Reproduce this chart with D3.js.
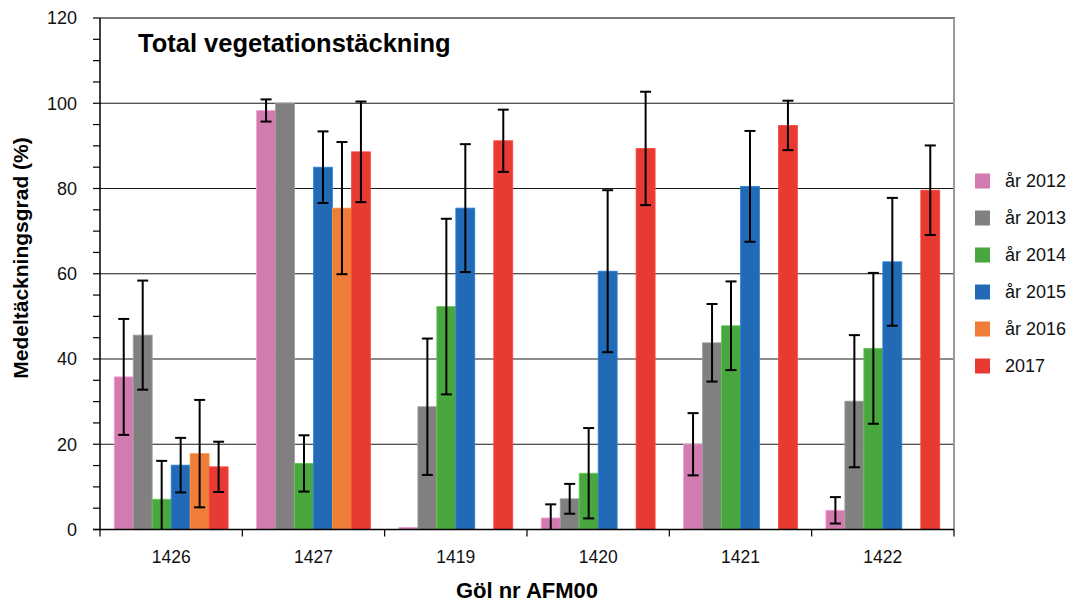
<!DOCTYPE html>
<html>
<head>
<meta charset="utf-8">
<script src="https://cdn.jsdelivr.net/npm/d3@7"></script>
<style>
  body { margin: 0; background: #fff; }
  svg { display: block; font-family: "Liberation Sans", Arial, sans-serif; }
</style>
</head>
<body>
<svg id="chart" width="1071" height="602"></svg>
<script>
// Ponds (Göl nr AFM00…) and survey years
const ponds = ["1426", "1427", "1419", "1420", "1421", "1422"];
const seriesNames = ["år 2012", "år 2013", "år 2014", "år 2015", "år 2016", "2017"];
const seriesColors = ["#D27BAF", "#808080", "#4AA63E", "#226AB5", "#EF7D37", "#E63A33"];

// Mean vegetation cover (%) per year, one entry per pond (null = not surveyed)
const cover2012 = [35.8, 98.3, 0.5, 2.7, 20.0, 4.5];
const cover2013 = [45.6, 100.0, 28.8, 7.2, 43.8, 30.1];
const cover2014 = [7.1, 15.5, 52.3, 13.2, 47.8, 42.5];
const cover2015 = [15.1, 85.0, 75.4, 60.6, 80.5, 62.8];
const cover2016 = [17.8, 75.4, null, null, null, null];
const cover2017 = [14.7, 88.6, 91.2, 89.4, 94.8, 79.6];

// Error bar half-widths (± %)
const err2012 = [13.6, 2.6, 0, 3.2, 7.3, 3.1];
const err2013 = [12.8, 0, 16.0, 3.5, 9.1, 15.5];
const err2014 = [9.0, 6.6, 20.6, 10.6, 10.4, 17.7];
const err2015 = [6.4, 8.4, 15.0, 19.0, 13.0, 15.0];
const err2016 = [12.6, 15.5, null, null, null, null];
const err2017 = [5.9, 11.8, 7.3, 13.3, 5.8, 10.5];

const yTicks = [0, 20, 40, 60, 80, 100, 120];

const values = [cover2012, cover2013, cover2014, cover2015, cover2016, cover2017];
const errors = [err2012, err2013, err2014, err2015, err2016, err2017];

const svg = d3.select("#chart");
const plotLeft = 100, plotRight = 954, plotTop = 18, plotBottom = 529.5;

const x0 = d3.scaleBand().domain(ponds).range([plotLeft, plotRight]).paddingInner(0).paddingOuter(0);
// 150% gap between clusters: band = 6 bars + 1.5 bar widths
const barW = x0.bandwidth() / 7.5;
const x1 = d3.scaleBand().domain(seriesNames).range([barW * 0.75, barW * 6.75]).padding(0);
const y = d3.scaleLinear().domain([0, 120]).range([plotBottom, plotTop]);

// Horizontal gridlines
svg.append("g").selectAll("line")
  .data(yTicks.filter(t => t > 0 && t < 120))
  .join("line")
  .attr("x1", plotLeft).attr("x2", plotRight)
  .attr("y1", d => y(d)).attr("y2", d => y(d))
  .attr("stroke", "#1a1a1a").attr("stroke-width", 1.1);

// Plot frame: top and right
svg.append("line").attr("x1", plotLeft).attr("x2", plotRight + 1).attr("y1", y(120)).attr("y2", y(120))
  .attr("stroke", "#7a7a7a").attr("stroke-width", 2);
svg.append("line").attr("x1", plotRight).attr("x2", plotRight).attr("y1", y(120)).attr("y2", plotBottom)
  .attr("stroke", "#9a9a9a").attr("stroke-width", 2);

// Bars
const barData = [];
seriesNames.forEach((s, si) => {
  ponds.forEach((p, pi) => {
    const v = values[si][pi];
    if (v !== null) barData.push({ s, si, p, v, e: errors[si][pi] });
  });
});

svg.append("g").selectAll("rect")
  .data(barData)
  .join("rect")
  .attr("x", d => x0(d.p) + x1(d.s))
  .attr("width", x1.bandwidth())
  .attr("y", d => y(d.v))
  .attr("height", d => y(0) - y(d.v))
  .attr("fill", d => seriesColors[d.si])
  .attr("stroke", d => d3.color(seriesColors[d.si]).brighter(0.6))
  .attr("stroke-width", 0.8);

// Error bars
const eb = svg.append("g").attr("stroke", "#000").attr("stroke-width", 2);
barData.filter(d => d.e > 0).forEach(d => {
  const cx = x0(d.p) + x1(d.s) + x1.bandwidth() / 2;
  const hi = d.v + d.e, lo = d.v - d.e;
  const loC = Math.max(lo, 0);
  eb.append("line").attr("x1", cx).attr("x2", cx).attr("y1", y(hi)).attr("y2", y(loC));
  eb.append("line").attr("x1", cx - 5.5).attr("x2", cx + 5.5).attr("y1", y(hi)).attr("y2", y(hi));
  if (lo >= 0) {
    eb.append("line").attr("x1", cx - 5.5).attr("x2", cx + 5.5).attr("y1", y(lo)).attr("y2", y(lo));
  }
});

// Y axis with minor ticks every 5
const minor = d3.range(0, 121, 5);
const yAxisG = svg.append("g");
yAxisG.append("line").attr("x1", plotLeft).attr("x2", plotLeft).attr("y1", y(120)).attr("y2", plotBottom)
  .attr("stroke", "#000").attr("stroke-width", 1.5);
yAxisG.selectAll("line.tk").data(minor).join("line").attr("class", "tk")
  .attr("x1", plotLeft - 7).attr("x2", plotLeft).attr("y1", d => y(d)).attr("y2", d => y(d))
  .attr("stroke", "#000").attr("stroke-width", 1.2);
yAxisG.selectAll("text").data(yTicks).join("text")
  .attr("x", 77).attr("y", d => y(d)).attr("dy", "0.35em")
  .attr("text-anchor", "end").attr("font-size", 18).attr("fill", "#111")
  .text(d => d);

// X axis
const xAxisG = svg.append("g");
xAxisG.append("line").attr("x1", plotLeft - 7).attr("x2", plotRight).attr("y1", plotBottom).attr("y2", plotBottom)
  .attr("stroke", "#000").attr("stroke-width", 1.5);
const bounds = ponds.map(p => x0(p)).concat([plotRight]);
xAxisG.selectAll("line.tk").data(bounds).join("line").attr("class", "tk")
  .attr("x1", d => d).attr("x2", d => d).attr("y1", plotBottom).attr("y2", plotBottom + 7)
  .attr("stroke", "#000").attr("stroke-width", 1.2);
xAxisG.selectAll("text").data(ponds).join("text")
  .attr("x", d => x0(d) + x0.bandwidth() / 2).attr("y", 563)
  .attr("text-anchor", "middle").attr("font-size", 17.5).attr("fill", "#111")
  .text(d => d);

// Titles
svg.append("text").attr("x", 138).attr("y", 52)
  .attr("font-size", 25.5).attr("font-weight", "bold").attr("fill", "#000")
  .text("Total vegetationstäckning");
svg.append("text").attr("x", (plotLeft + plotRight) / 2).attr("y", 598)
  .attr("text-anchor", "middle").attr("font-size", 22).attr("font-weight", "bold")
  .text("Göl nr AFM00");
svg.append("text").attr("transform", "translate(28,258) rotate(-90)")
  .attr("text-anchor", "middle").attr("font-size", 21).attr("font-weight", "bold")
  .text("Medeltäckningsgrad (%)");

// Legend
const lg = svg.append("g").selectAll("g").data(seriesNames).join("g")
  .attr("transform", (d, i) => `translate(975,${181 + i * 37})`);
lg.append("rect").attr("x", 0).attr("y", -7.5).attr("width", 15).attr("height", 15)
  .attr("fill", (d, i) => seriesColors[i]);
lg.append("text").attr("x", 30).attr("dy", "0.35em").attr("font-size", 18).attr("fill", "#111")
  .text(d => d);
</script>
</body>
</html>
